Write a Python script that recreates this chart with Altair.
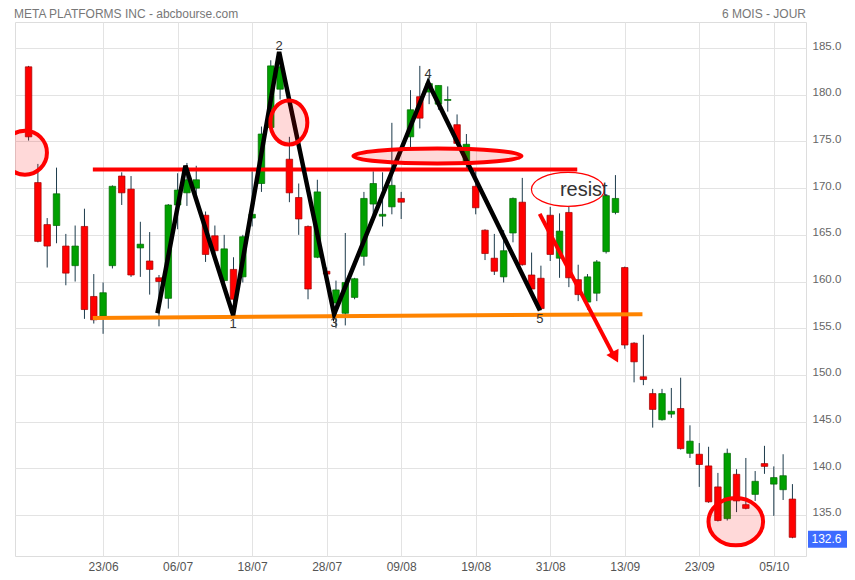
import altair as alt
import pandas as pd

# ---------------- data ----------------
dates = ["10/06", "13/06", "14/06", "15/06", "16/06", "17/06", "21/06", "22/06", "23/06", "24/06",
         "27/06", "28/06", "29/06", "30/06", "01/07", "05/07", "06/07", "07/07", "08/07", "11/07",
         "12/07", "13/07", "14/07", "15/07", "18/07", "19/07", "20/07", "21/07", "22/07", "25/07",
         "26/07", "27/07", "28/07", "29/07", "01/08", "02/08", "03/08", "04/08", "05/08", "08/08",
         "09/08", "10/08", "11/08", "12/08", "15/08", "16/08", "17/08", "18/08", "19/08", "22/08",
         "23/08", "24/08", "25/08", "26/08", "29/08", "30/08", "31/08", "01/09", "02/09", "06/09",
         "07/09", "08/09", "09/09", "12/09", "13/09", "14/09", "15/09", "16/09", "19/09", "20/09",
         "21/09", "22/09", "23/09", "26/09", "27/09", "28/09", "29/09", "30/09", "03/10", "04/10",
         "05/10", "06/10", "07/10"]

opens = [183.0, 170.6, 166.1, 166.0, 163.8, 161.7, 165.9, 158.4, 156.3, 161.7,
         171.3, 169.9, 163.6, 162.2, 160.4, 158.2, 168.2, 169.5, 170.0, 167.1,
         164.9, 160.1, 161.3, 160.5, 166.8, 170.5, 176.5, 180.6, 173.1, 169.0,
         165.9, 162.6, 161.1, 157.7, 156.6, 158.3, 162.7, 168.3, 167.0, 168.0,
         168.9, 175.5, 179.8, 180.3, 179.0, 179.4, 176.8, 172.8, 170.2, 165.5,
         162.5, 160.5, 165.2, 168.5, 160.7, 160.35, 167.1, 162.5, 167.4, 160.2,
         157.8, 158.75, 163.2, 167.4, 161.5, 153.4, 149.8, 148.0, 145.2, 145.8,
         146.4, 141.6, 141.5, 140.25, 138.0, 134.6, 139.35, 136.1, 137.2, 140.5,
         138.3, 137.7, 136.7]
highs = [183.1, 172.6, 166.8, 172.2, 165.1, 166.0, 167.8, 160.8, 159.9, 170.3,
         171.7, 171.3, 166.4, 165.3, 160.7, 168.3, 171.6, 172.7, 172.4, 167.5,
         166.0, 165.0, 162.6, 165.0, 171.8, 176.6, 183.7, 183.6, 175.5, 170.5,
         166.0, 170.9, 161.5, 160.1, 165.2, 160.4, 169.6, 171.8, 171.7, 177.0,
         169.6, 180.5, 183.1, 182.0, 181.0, 180.9, 177.9, 175.8, 172.0, 165.6,
         165.1, 165.5, 169.0, 171.1, 163.1, 161.7, 168.0, 167.3, 168.0, 161.8,
         160.8, 162.3, 169.3, 171.4, 161.6, 153.5, 154.3, 148.5, 148.5, 148.6,
         149.7, 144.6, 142.7, 142.3, 139.5, 142.1, 139.9, 141.1, 139.7, 142.4,
         140.2, 141.5, 138.3]
lows = [175.1, 164.2, 161.5, 164.1, 159.6, 160.0, 156.0, 155.5, 154.4, 161.4,
        168.2, 160.5, 160.5, 158.6, 155.2, 157.1, 165.6, 168.1, 169.0, 162.1,
        163.0, 159.9, 157.8, 159.9, 165.9, 169.6, 176.0, 179.5, 168.5, 165.0,
        158.1, 162.5, 160.5, 155.0, 155.3, 158.1, 161.7, 167.1, 165.9, 167.2,
        166.7, 174.1, 176.4, 179.0, 178.4, 178.2, 174.6, 172.0, 167.2, 162.3,
        160.7, 159.9, 164.2, 161.7, 159.1, 156.9, 162.2, 160.4, 159.4, 157.9,
        157.0, 157.9, 163.0, 167.2, 152.8, 149.2, 148.9, 144.35, 145.1, 145.4,
        142.0, 141.1, 138.0, 136.3, 134.3, 134.4, 135.3, 135.6, 136.5, 139.4,
        134.9, 136.6, 132.5]
closes = [175.5, 164.3, 163.8, 169.4, 160.9, 163.8, 157.0, 155.9, 158.8, 170.2,
          169.5, 160.7, 164.0, 161.3, 160.0, 168.2, 169.8, 170.9, 170.9, 162.9,
          163.3, 163.5, 158.1, 164.8, 167.2, 175.8, 183.1, 183.0, 169.5, 166.7,
          159.2, 169.6, 160.8, 159.1, 159.9, 160.3, 168.9, 170.5, 167.2, 170.3,
          168.5, 178.4, 177.5, 181.2, 181.0, 179.5, 174.8, 174.7, 167.9, 163.0,
          161.1, 163.3, 168.9, 161.8, 159.2, 157.1, 162.9, 165.4, 160.4, 158.6,
          160.5, 162.1, 169.2, 168.9, 153.2, 151.4, 149.5, 146.3, 148.0, 146.1,
          142.1, 142.9, 140.4, 136.4, 134.4, 141.6, 136.5, 135.7, 138.6, 140.2,
          139.0, 139.2, 132.6]

tick_idx = [8, 16, 24, 32, 40, 48, 56, 64, 72, 80]
y_ticks = [135, 140, 145, 150, 155, 160, 165, 170, 175, 180, 185]

title_left = "META PLATFORMS INC - abcbourse.com"
title_right = "6 MOIS - JOUR"

# annotations (in candle-index / price units)
resist_level = 172.0
resist_x = [6.9, 58.9]
support_x = [6.9, 65.9]
support_y = [156.1, 156.5]
zig_x = [13.83, 16.84, 21.96, 26.9, 32.8, 42.9, 54.9]
zig_y = [156.6, 172.4, 156.4, 184.6, 156.5, 181.3, 156.9]
pivot_labels = ["", "", "1", "2", "3", "4", "5"]
pivot_pos = ["", "", "below", "above", "below", "above_hi", "below"]

# pink ellipses: center idx, center price, radius x px, radius y px
ell_x = [-0.39, 27.94, 43.89, 75.92]
ell_y = [173.8, 177.03, 173.44, 134.28]
ell_rx = [22.0, 18.5, 84.0, 27.3]
ell_ry = [22.0, 22.0, 7.5, 23.7]

resist_ell = (57.9, 169.87, 36.5, 17.0)
resist_text = (59.6, 169.17, "resist")

arrow_x = [54.87, 62.75]
arrow_y = [167.25, 152.2]
arrow_head = (62.98, 151.9)

last_price = closes[-1]

# ---------------- helpers ----------------
FONT = "Liberation Sans, Arial, sans-serif"
W, H = 791, 534
xs = alt.Scale(domain=[-0.92, 82.92], nice=False, zero=False)
ys = alt.Scale(domain=[130.6, 187.8], nice=False, zero=False)

label_expr = "[" + ",".join(f"'{d}'" for d in dates) + "][datum.value]"

X_AXIS = alt.Axis(values=tick_idx, labelExpr=label_expr, grid=True, ticks=False, tickSize=0,
                  domain=False, title="", labelPadding=5, labelColor="#555",
                  labelFontSize=12, labelFont=FONT, gridColor="#e3e3e3")
Y_AXIS = alt.Axis(orient="right", values=y_ticks, format=".1f", grid=True, ticks=False,
                  tickSize=0, domain=False, title="", labelPadding=6, labelColor="#666",
                  labelFontSize=11.5, labelFont=FONT, gridColor="#e3e3e3", labelOffset=-2)


def X(field):
    return alt.X(field, scale=xs, axis=X_AXIS, title="")


def Y(field):
    return alt.Y(field, scale=ys, axis=Y_AXIS, title="")


def ellipse_path(rx, ry):
    k = 0.5523
    if rx >= ry:
        a, b = 1.0, ry / rx
    else:
        a, b = rx / ry, 1.0
    return (f"M{a},0 C{a},{k*b:.4f} {k*a:.4f},{b} 0,{b} "
            f"C{-k*a:.4f},{b} {-a},{k*b:.4f} {-a},0 "
            f"C{-a},{-k*b:.4f} {-k*a:.4f},{-b} 0,{-b} "
            f"C{k*a:.4f},{-b} {a},{-k*b:.4f} {a},0 Z")


def ell_size(rx, ry):
    return (2 * max(rx, ry)) ** 2


df = pd.DataFrame({"idx": list(range(len(dates))), "date": dates, "open": opens,
                   "high": highs, "low": lows, "close": closes})
df["dir"] = ["up" if c >= o else "down" for o, c in zip(opens, closes)]

base = alt.Chart(df)

wicks = base.mark_rule(color="#1d3b4c", strokeWidth=1).encode(
    x=X("idx:Q"), y=Y("low:Q"), y2="high:Q")

bodies = base.mark_bar(size=6.5, strokeWidth=0.7).encode(
    x=X("idx:Q"), y=Y("open:Q"), y2="close:Q",
    color=alt.Color("dir:N", scale=alt.Scale(domain=["up", "down"], range=["#00a000", "#ff0000"]), legend=None),
    stroke=alt.Stroke("dir:N", scale=alt.Scale(domain=["up", "down"], range=["#006a00", "#a00000"]), legend=None),
)

res_df = pd.DataFrame({"x": [resist_x[0]], "x2": [resist_x[1]], "y": [resist_level]})
resist = alt.Chart(res_df).mark_rule(color="#ff0000", strokeWidth=4).encode(
    x=X("x:Q"), x2="x2:Q", y=Y("y:Q"))

sup_df = pd.DataFrame({"x": support_x, "y": support_y})
support = alt.Chart(sup_df).mark_line(color="#ff8400", strokeWidth=4).encode(
    x=X("x:Q"), y=Y("y:Q"))

zig_df = pd.DataFrame({"x": zig_x, "y": zig_y, "o": list(range(len(zig_x))),
                       "label": pivot_labels, "pos": pivot_pos})
zig = alt.Chart(zig_df).mark_line(color="#000000", strokeWidth=4.5, strokeJoin="miter").encode(
    x=X("x:Q"), y=Y("y:Q"), order="o:Q")

lab_above = alt.Chart(zig_df).transform_filter("datum.pos == 'above'").mark_text(
    baseline="alphabetic", dy=-2, fontSize=13, font=FONT, color="#333").encode(
    x=X("x:Q"), y=Y("y:Q"), text="label:N")
lab_above_hi = alt.Chart(zig_df).transform_filter("datum.pos == 'above_hi'").mark_text(
    baseline="alphabetic", dy=-5, fontSize=13, font=FONT, color="#333").encode(
    x=X("x:Q"), y=Y("y:Q"), text="label:N")
lab_below = alt.Chart(zig_df).transform_filter("datum.pos == 'below'").mark_text(
    baseline="top", dy=3, fontSize=13, font=FONT, color="#333").encode(
    x=X("x:Q"), y=Y("y:Q"), text="label:N")

ell_df = pd.DataFrame({"x": ell_x, "y": ell_y,
                       "path": [ellipse_path(a, b) for a, b in zip(ell_rx, ell_ry)],
                       "sz": [ell_size(a, b) for a, b in zip(ell_rx, ell_ry)]})
ellipses = alt.Chart(ell_df).mark_point(
    filled=True, fill="#ff0000", fillOpacity=0.15, stroke="#ff0000", strokeWidth=4,
    strokeOpacity=1, opacity=1, clip=True).encode(
    x=X("x:Q"), y=Y("y:Q"),
    shape=alt.Shape("path:N", scale=None, legend=None), size=alt.Size("sz:Q", scale=None, legend=None))

rdf = pd.DataFrame({"x": [resist_ell[0]], "y": [resist_ell[1]],
                    "path": [ellipse_path(resist_ell[2], resist_ell[3])],
                    "sz": [ell_size(resist_ell[2], resist_ell[3])]})
resist_ellipse = alt.Chart(rdf).mark_point(
    filled=False, stroke="#ff0000", strokeWidth=1.2, opacity=1).encode(
    x=X("x:Q"), y=Y("y:Q"),
    shape=alt.Shape("path:N", scale=None, legend=None), size=alt.Size("sz:Q", scale=None, legend=None))

rtext = alt.Chart(pd.DataFrame({"x": [resist_text[0]], "y": [resist_text[1]], "t": [resist_text[2]]})).mark_text(
    baseline="alphabetic", align="center", fontSize=20, font=FONT, color="#333").encode(
    x=X("x:Q"), y=Y("y:Q"), text="t:N")

arr_df = pd.DataFrame({"x": arrow_x, "y": arrow_y})
arrow_line = alt.Chart(arr_df).mark_line(color="#ff0000", strokeWidth=4).encode(
    x=X("x:Q"), y=Y("y:Q"))
arrow_tip = alt.Chart(pd.DataFrame({"x": [arrow_head[0]], "y": [arrow_head[1]]})).mark_point(
    shape="triangle-up", filled=True, color="#ff0000", size=190, angle=152, opacity=1).encode(
    x=X("x:Q"), y=Y("y:Q"))

hdr_left = alt.Chart(pd.DataFrame({"t": [title_left]})).mark_text(
    align="left", baseline="alphabetic", fontSize=12, font=FONT, color="#777").encode(
    x=alt.value(-1), y=alt.value(-4), text="t:N")
hdr_right = alt.Chart(pd.DataFrame({"t": [title_right]})).mark_text(
    align="right", baseline="alphabetic", fontSize=12, font=FONT, color="#777").encode(
    x=alt.value(W), y=alt.value(-4), text="t:N")

tag_df = pd.DataFrame({"y": [last_price], "t": [f"{last_price:.1f}"]})
tag_box = alt.Chart(tag_df).mark_point(
    shape="M-1,-0.436 L1,-0.436 L1,0.436 L-1,0.436 Z", size=39 * 39, filled=True,
    color="#3d6bff", opacity=1, yOffset=2).encode(
    x=alt.value(812.5), y=Y("y:Q"))
tag_text = alt.Chart(tag_df).mark_text(
    align="left", baseline="middle", fontSize=12, font=FONT, color="#ffffff", dy=2).encode(
    x=alt.value(796.5), y=Y("y:Q"), text="t:N")

chart = alt.layer(
    wicks, bodies, resist, support, zig, ellipses, resist_ellipse, rtext,
    arrow_line, arrow_tip, lab_above, lab_above_hi, lab_below, hdr_left, hdr_right, tag_box, tag_text
).properties(
    width=W, height=H,
    padding={"left": 7, "top": 14, "right": 41, "bottom": 16},
    autosize=alt.AutoSizeParams(type="none"),
).configure_view(stroke="#d9d9d9", strokeWidth=1).configure(background="white")

chart.save("out.html", embed_options={"renderer": "svg", "actions": False})
